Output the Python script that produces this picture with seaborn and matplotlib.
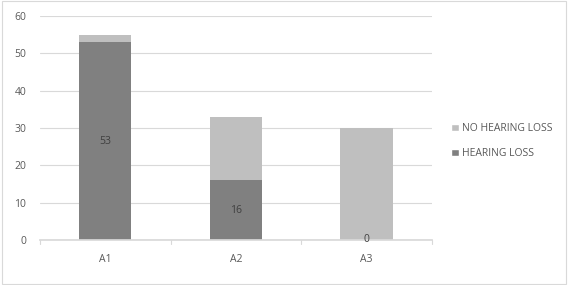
import matplotlib
matplotlib.use("Agg")
import matplotlib.pyplot as plt
import seaborn as sns
import pandas as pd
from matplotlib.patches import Rectangle, Patch

categories = ["A1", "A2", "A3"]
hearing_loss = [53, 16, 0]
no_hearing_loss = [2, 17, 30]
y_ticks = [0, 10, 20, 30, 40, 50, 60]

sns.set_theme(style="white")
plt.rcParams['font.family'] = ['Open Sans', 'DejaVu Sans']

totals = [a + b for a, b in zip(hearing_loss, no_hearing_loss)]
df = pd.DataFrame({"cat": categories, "hl": hearing_loss, "total": totals})

fig = plt.figure(figsize=(5.68, 2.85), dpi=100)
ax = fig.add_axes([0.0704, 0.158, 0.690, 0.786])

sns.barplot(data=df, x="cat", y="total", color="#bfbfbf", width=0.4, ax=ax,
            saturation=1, linewidth=0, edgecolor="none")
sns.barplot(data=df, x="cat", y="hl", color="#808080", width=0.4, ax=ax,
            saturation=1, linewidth=0, edgecolor="none")

for i, v in enumerate(hearing_loss):
    ax.text(i, v / 2, str(v), ha="center", va="center", fontsize=7.5, color="#404040")

ax.set_ylim(0, 60)
ax.set_xlim(-0.5, 2.5)
ax.set_yticks(y_ticks)
ax.set_yticklabels([str(t) for t in y_ticks])
ax.yaxis.grid(True, color="#d9d9d9", linewidth=0.8)
ax.set_axisbelow(True)
for s in ["top", "right", "left"]:
    ax.spines[s].set_visible(False)
ax.spines["bottom"].set_color("#d9d9d9")
ax.tick_params(axis="y", length=0, labelsize=7.5, labelcolor="#595959", pad=10)
ax.tick_params(axis="x", length=0, labelsize=7.5, labelcolor="#595959", pad=10)
ax.set_xlabel("")
ax.set_ylabel("")
for xb in [-0.5, 0.5, 1.5, 2.5]:
    ax.plot([xb, xb], [0, -1.2], color="#d9d9d9", lw=0.8, clip_on=False)

handles = [Patch(facecolor="#bfbfbf", label="NO HEARING LOSS"),
           Patch(facecolor="#808080", label="HEARING LOSS")]
fig.legend(handles=handles, loc="center left", bbox_to_anchor=(0.778, 0.505),
           frameon=False, fontsize=7.5, labelcolor="#595959",
           handlelength=0.7, handleheight=0.7, handletextpad=0.3, labelspacing=1.3)

fig.patches.append(Rectangle((0.003, 0.005), 0.994, 0.99, transform=fig.transFigure,
                             fill=False, edgecolor="#d9d9d9", lw=0.8))

fig.savefig("out.png", dpi=100, facecolor="white")
